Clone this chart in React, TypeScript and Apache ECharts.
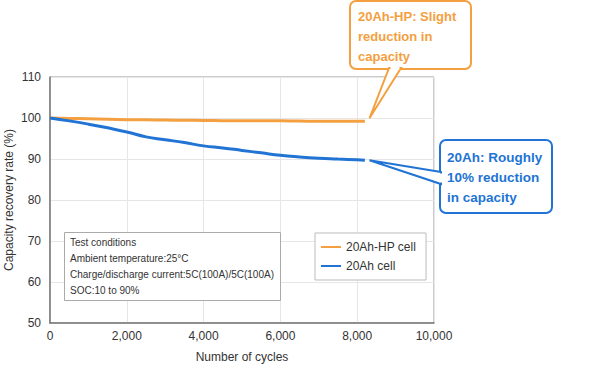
import React, { useEffect, useRef } from "react";
import * as echarts from "echarts";

const cycles = [0, 500, 1000, 1500, 2000, 2500, 3000, 3500, 4000, 4500, 5000, 5500, 6000, 6500, 7000, 7500, 8000, 8200];
const hpValues = [100, 99.9, 99.8, 99.7, 99.6, 99.55, 99.5, 99.45, 99.4, 99.35, 99.3, 99.3, 99.3, 99.25, 99.2, 99.2, 99.2, 99.2];
const stdValues = [100, 99.3, 98.5, 97.6, 96.6, 95.4, 94.7, 94.0, 93.2, 92.7, 92.1, 91.5, 90.9, 90.5, 90.2, 90.0, 89.8, 89.7];
const seriesNames = ["20Ah-HP cell", "20Ah cell"];
const xTicks = [0, 2000, 4000, 6000, 8000, 10000];
const yAxisName = "Capacity recovery rate (%)";
const conditionLines = [
  "Test conditions",
  "Ambient temperature:25°C",
  "Charge/discharge current:5C(100A)/5C(100A)",
  "SOC:10 to 90%",
];
const hpNote = "20Ah-HP: Slight\nreduction in\ncapacity";
const stdNote = "20Ah: Roughly\n10% reduction\nin capacity";

const ORANGE = "#f4a040";
const BLUE = "#2274d4";
const FONT = "Liberation Sans, Arial, sans-serif";

export default function App() {
  const ref = useRef<HTMLDivElement>(null);
  useEffect(() => {
    if (!ref.current) return;
    const chart = echarts.init(ref.current, null, { renderer: "svg" });
    const toPairs = (vals: number[]) => cycles.map((c, i) => [c, vals[i]]);
    chart.setOption({
      animation: false,
      textStyle: { fontFamily: FONT },
      grid: {
        left: 50,
        right: 166,
        top: 77,
        bottom: 52,
        show: true,
        borderColor: "#999",
        borderWidth: 1,
        containLabel: false,
        outerBoundsMode: "none",
      },
      legend: {
        orient: "vertical",
        left: 315,
        top: 233,
        width: 107,
        padding: [8, 10, 8, 6],
        itemGap: 7,
        itemWidth: 20,
        itemHeight: 2,
        icon: "rect",
        borderColor: "#bbb",
        borderWidth: 1,
        backgroundColor: "#fff",
        textStyle: { fontSize: 12, color: "#333", fontFamily: FONT },
        data: seriesNames,
      },
      xAxis: {
        type: "value",
        min: 0,
        max: 10000,
        interval: 2000,
        name: "Number of cycles",
        nameLocation: "middle",
        nameGap: 28,
        nameTextStyle: { fontSize: 12, color: "#333", fontFamily: FONT },
        axisLine: { lineStyle: { color: "#777", width: 1.5 } },
        axisTick: { show: false },
        axisLabel: {
          fontSize: 12,
          color: "#333",
          margin: 7,
          formatter: (v: number) => (xTicks.includes(v) ? v.toLocaleString("en-US") : ""),
        },
        splitLine: { show: true, lineStyle: { color: "#e6e6e6" } },
      },
      yAxis: {
        type: "value",
        min: 50,
        max: 110,
        interval: 10,
        axisLine: { show: true, lineStyle: { color: "#777", width: 1.5 } },
        axisTick: { show: false },
        axisLabel: { fontSize: 12, color: "#333", margin: 9 },
        splitLine: { show: true, lineStyle: { color: "#e6e6e6" } },
      },
      series: [
        {
          name: seriesNames[0],
          type: "line",
          data: toPairs(hpValues),
          showSymbol: false,
          smooth: true,
          color: ORANGE,
          lineStyle: { width: 3, color: ORANGE },
          z: 3,
        },
        {
          name: seriesNames[1],
          type: "line",
          data: toPairs(stdValues),
          showSymbol: false,
          smooth: true,
          color: BLUE,
          lineStyle: { width: 3, color: BLUE },
          z: 3,
        },
      ],
    });

    const last = cycles.length - 1;
    const hpTip = chart.convertToPixel({ gridIndex: 0 }, [cycles[last] + 120, hpValues[last]]) as number[];
    const stdTip = chart.convertToPixel({ gridIndex: 0 }, [cycles[last] + 120, stdValues[last]]) as number[];
    const yMid = chart.convertToPixel({ gridIndex: 0 }, [0, 80]) as number[];

    const condTexts = conditionLines.map((t, i) => ({
      type: "text",
      left: 70,
      top: 237 + i * 16,
      style: { text: t, fontSize: 10, fill: "#333", fontFamily: FONT },
      z: 20,
    }));

    chart.setOption({
      graphic: [
        {
          type: "text",
          x: 9,
          y: yMid[1],
          rotation: Math.PI / 2,
          style: {
            text: yAxisName,
            fontSize: 12,
            fill: "#333",
            fontFamily: FONT,
            align: "center",
            verticalAlign: "middle",
          },
          z: 20,
        },
        {
          type: "rect",
          shape: { x: 64.5, y: 232.5, width: 216, height: 68 },
          style: { fill: "#fff", stroke: "#aaa", lineWidth: 1 },
          z: 10,
        },
        ...condTexts,
        // orange callout
        {
          type: "rect",
          shape: { x: 350, y: 1, width: 121, height: 68, r: 6 },
          style: { fill: "#fff", stroke: ORANGE, lineWidth: 2 },
          z: 30,
        },
        {
          type: "polygon",
          shape: { points: [[389, 68], [hpTip[0], hpTip[1] - 3], [401, 68]] },
          style: { fill: "#fff", stroke: ORANGE, lineWidth: 2 },
          z: 31,
        },
        {
          type: "line",
          shape: { x1: 390.5, y1: 68, x2: 399.5, y2: 68 },
          style: { stroke: "#fff", lineWidth: 3 },
          z: 32,
        },
        {
          type: "text",
          left: 358,
          top: 6,
          style: { text: hpNote, fontSize: 13, fontWeight: "bold", fill: ORANGE, lineHeight: 20, fontFamily: FONT },
          z: 33,
        },
        // blue callout
        {
          type: "rect",
          shape: { x: 440, y: 140, width: 112, height: 73, r: 6 },
          style: { fill: "#fff", stroke: BLUE, lineWidth: 2 },
          z: 30,
        },
        {
          type: "polygon",
          shape: { points: [[441, 172], [stdTip[0], stdTip[1]], [441, 184]] },
          style: { fill: "#fff", stroke: BLUE, lineWidth: 2 },
          z: 31,
        },
        {
          type: "line",
          shape: { x1: 441, y1: 173.5, x2: 441, y2: 182.5 },
          style: { stroke: "#fff", lineWidth: 3 },
          z: 32,
        },
        {
          type: "text",
          left: 447,
          top: 147,
          style: { text: stdNote, fontSize: 13.5, fontWeight: "bold", fill: BLUE, lineHeight: 20, fontFamily: FONT },
          z: 33,
        },
      ],
    });
    return () => chart.dispose();
  }, []);
  return <div ref={ref} style={{ width: 600, height: 375, position: "absolute", left: 0, top: 0 }} />;
}
